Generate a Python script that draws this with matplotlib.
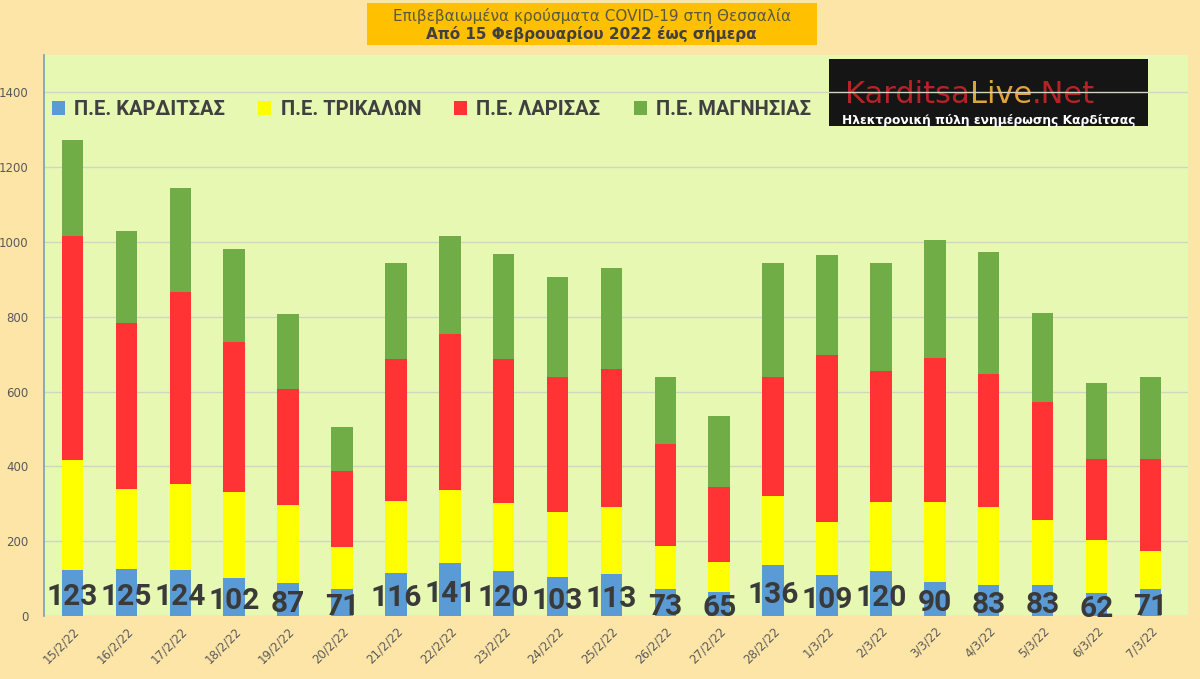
import numpy as np
import matplotlib
matplotlib.use("Agg")
import matplotlib.pyplot as plt
from matplotlib.patches import Patch, Rectangle

# data
dates = ["15/2/22", "16/2/22", "17/2/22", "18/2/22", "19/2/22", "20/2/22", "21/2/22",
         "22/2/22", "23/2/22", "24/2/22", "25/2/22", "26/2/22", "27/2/22", "28/2/22",
         "1/3/22", "2/3/22", "3/3/22", "4/3/22", "5/3/22", "6/3/22", "7/3/22"]
karditsa = [123, 125, 124, 102, 87, 71, 116, 141, 120, 103, 113, 73, 65, 136,
            109, 120, 90, 83, 83, 62, 71]
trikala = [294, 214, 229, 230, 211, 114, 192, 195, 181, 175, 178, 115, 79, 186,
           142, 185, 215, 208, 174, 140, 104]
larisa = [599, 445, 513, 401, 308, 203, 378, 417, 387, 360, 370, 272, 202, 316,
          448, 349, 384, 356, 315, 219, 246]
magnisia = [257, 246, 278, 249, 201, 118, 259, 263, 281, 269, 270, 180, 188, 307,
            266, 291, 315, 326, 239, 201, 219]
names = ["Π.Ε. ΚΑΡΔΙΤΣΑΣ", "Π.Ε. ΤΡΙΚΑΛΩΝ", "Π.Ε. ΛΑΡΙΣΑΣ", "Π.Ε. ΜΑΓΝΗΣΙΑΣ"]
colors = ["#5B9BD5", "#FFFF00", "#FF3333", "#70AD47"]

title1 = "Επιβεβαιωμένα κρούσματα COVID-19 στη Θεσσαλία"
title2 = "Από 15 Φεβρουαρίου 2022 έως σήμερα"

plt.rcParams['font.family'] = ['DejaVu Sans']

fig = plt.figure(figsize=(12, 6.79), dpi=100, facecolor="#FDE5A7")
ax = fig.add_axes([0.0367, 0.0928, 0.9533, 0.8262])
ax.set_facecolor("#E7F8B3")

x = np.arange(len(dates))
series = [karditsa, trikala, larisa, magnisia]
bottom = np.zeros(len(dates))
bars = []
for vals, col in zip(series, colors):
    b = ax.bar(x, vals, 0.40, bottom=bottom, color=col, zorder=2)
    bars.append(b)
    bottom += np.array(vals)

lbls = ax.bar_label(bars[0], labels=[str(v) for v in karditsa], label_type="center",
                    fontsize=21.5, fontweight="bold", color="#3A3A3A",
                    family="Roboto", zorder=4)
for t in lbls:
    t.xyann = (0, -3)

ax.set_xlim(-0.53, 20.70)
ax.set_ylim(0, 1500)
ax.set_yticks(range(0, 1401, 200))
ax.set_xticks(x)
ax.set_xticklabels(dates, rotation=45, ha="right", rotation_mode="anchor")
ax.tick_params(axis="both", length=0, labelsize=8.5, labelcolor="#595959")
ax.tick_params(axis="y", pad=11)
ax.tick_params(axis="x", pad=6)
ax.set_axisbelow(True)
ax.grid(axis="y", color="#D0D6C0", linewidth=1)
for s in ["top", "right", "bottom"]:
    ax.spines[s].set_visible(False)
ax.spines["left"].set_color("#7C9CB8")
ax.spines["left"].set_linewidth(1.2)

# legend
handles = [Patch(facecolor=c, edgecolor="none") for c in colors]
leg = ax.legend(handles, names, ncol=4, loc="center left",
                bbox_to_anchor=(0.0, 0.903), frameon=False,
                prop={"family": "Roboto", "weight": "bold", "size": 14.5},
                labelcolor="#404040", handlelength=0.65, handleheight=0.65,
                handletextpad=0.45, columnspacing=1.65, borderaxespad=0)
leg.set_zorder(5)

# site logo box
ax.add_patch(Rectangle((0.686, 0.873), 0.279, 0.120, transform=ax.transAxes,
                       facecolor="#151515", edgecolor="none", zorder=0.4))
t1 = ax.text(0.700, 0.914, "Karditsa", transform=ax.transAxes,
             ha="left", va="baseline", fontsize=22, color="#B82226", zorder=0.45)
t2 = ax.annotate("Live", xy=(1, 0), xycoords=t1, ha="left", va="bottom",
                 fontsize=22, color="#E0A23A", zorder=0.45)
t3 = ax.annotate(".Net", xy=(1, 0), xycoords=t2, ha="left", va="bottom",
                 fontsize=22, color="#B82226", zorder=0.45)
ax.text(0.826, 0.884, "Ηλεκτρονική πύλη ενημέρωσης Καρδίτσας",
        transform=ax.transAxes, ha="center", va="center", fontsize=8.8,
        fontweight="bold", color="white", zorder=0.45)

# title box
fig.patches.append(Rectangle((0.306, 0.934), 0.375, 0.062,
                             transform=fig.transFigure, facecolor="#FFC000",
                             edgecolor="none", zorder=0))
fig.text(0.493, 0.976, title1, ha="center", va="center", fontsize=11,
         color="#5A5A40")
fig.text(0.493, 0.950, title2, ha="center", va="center", fontsize=11,
         fontweight="bold", color="#404040")

fig.savefig("out.png", dpi=100, facecolor=fig.get_facecolor())
